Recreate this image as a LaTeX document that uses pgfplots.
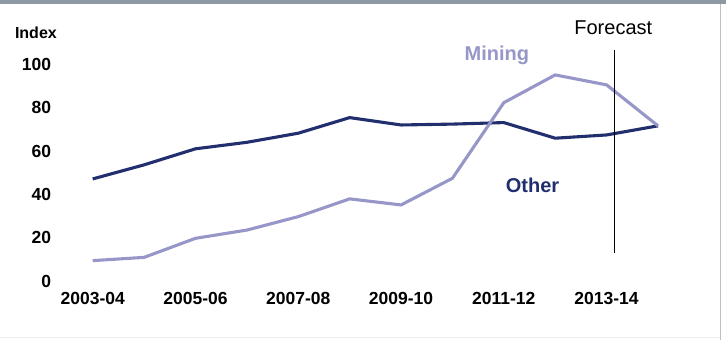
\documentclass[border=0pt]{standalone}
\usepackage{pgfplots}
\pgfplotsset{compat=1.18}
\usepackage{fontspec}
\setmainfont{Liberation Sans}
\definecolor{navy}{RGB}{33,47,110}
\definecolor{mining}{RGB}{150,150,200}
\definecolor{framegray}{RGB}{140,152,164}

\begin{document}
\begin{tikzpicture}[x=1pt,y=1pt]
	\begin{axis}[
		at={(0,0)}, anchor=south west,
		scale only axis,
		width=565.3pt, height=216.7pt,
		xmin=0, xmax=11, ymin=0, ymax=100,
		clip=false,
		axis line style={draw=none},
		xtick={0,2,4,6,8,10},
		xticklabels={2003-04,2005-06,2007-08,2009-10,2011-12,2013-14},
		ytick={0,20,40,60,80,100},
		major tick length=0pt,
		/pgf/number format/assume math mode=true,
		tick label style={font=\fontsize{17.5}{18}\selectfont\bfseries},
		xticklabel style={anchor=center, yshift=-17pt},
		yticklabel style={anchor=east, xshift=-38pt},
	]
		% Other
		\addplot[navy, line width=3.1pt] coordinates {
			(0,47.1) (1,53.6) (2,61.0) (3,64.0) (4,68.2) (5,75.4)
			(6,72.0) (7,72.4) (8,73.1) (9,65.9) (10,67.4) (11,71.6)
		};
		% Mining
		\addplot[mining, line width=3.1pt] coordinates {
			(0,9.4) (1,10.9) (2,19.7) (3,23.5) (4,29.7) (5,37.9)
			(6,35.1) (7,47.4) (8,82.3) (9,95.1) (10,90.5) (11,71.6)
		};
		% forecast divider
		\addplot[black, line width=1.2pt] coordinates {(10.16,12.9) (10.16,106.6)};
		\node[font=\fontsize{20}{22}\selectfont] at (axis cs:10.13,116.8) {Forecast};
		\node[font=\fontsize{20}{22}\selectfont\bfseries, text=mining] at (axis cs:7.865,104.3) {Mining};
		\node[font=\fontsize{20}{22}\selectfont\bfseries, text=navy] at (axis cs:8.56,44.3) {Other};
		\node[font=\fontsize{16}{17}\selectfont\bfseries] at (axis cs:-1.105,114.5) {Index};
	\end{axis}
	\path[use as bounding box] (-92.7,-59) rectangle (633.3,281);
	\fill[framegray] (-92.7,277) rectangle (633.3,281);
	\draw[gray!50, line width=1.2pt] (627.6,-59) -- (627.6,277);
	\draw[gray!15, line width=1pt] (-92.7,-57) -- (627.6,-57);
\end{tikzpicture}
\end{document}
